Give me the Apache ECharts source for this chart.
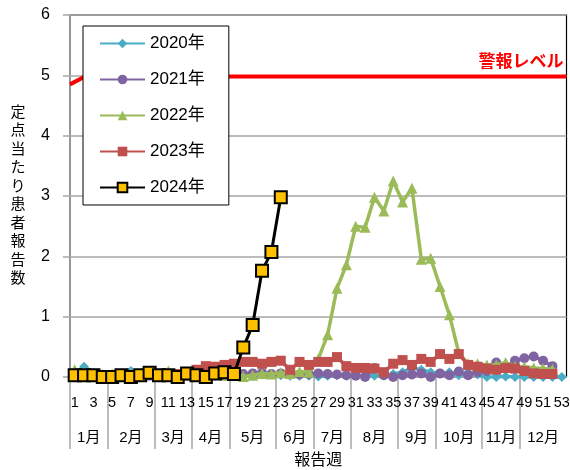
<!DOCTYPE html>
<html><head><meta charset="utf-8">
<script src="https://cdn.jsdelivr.net/npm/echarts@6/dist/echarts.min.js"></script>
<style>html,body{margin:0;padding:0;background:#fff}#c{width:570px;height:470px}</style>
</head><body><div id="c"></div>
<script>
const weeks = ['1','2','3','4','5','6','7','8','9','10','11','12','13','14','15','16','17','18','19','20','21','22','23','24','25','26','27','28','29','30','31','32','33','34','35','36','37','38','39','40','41','42','43','44','45','46','47','48','49','50','51','52','53'];
const monthNames = ['1月','2月','3月','4月','5月','6月','7月','8月','9月','10月','11月','12月'];
const monthBounds = [0,4,9,13,17,22,26,30,35,39,44,48,53];
const yTicks = [0,1,2,3,4,5,6];

const d2020 = [0.05,0.17,0.07,0.03,0.03,0.05,0.1,0.05,0.04,0.03,0.05,0.03,0.02,0.05,0.03,0.02,0.02,0.01,0.01,0.02,0.04,0.05,0.03,0.02,0.02,0.02,0.01,0.02,0.03,0.02,0.02,0.03,0.02,0.03,0.05,0.08,0.15,0.12,0.08,0.06,0.08,0.03,0.08,0.04,0.0,0.0,0.01,0.0,0.0,0.0,0.0,0.0,0.0];
const d2021 = [0.02,0.02,0.02,0.02,0.02,0.02,0.02,0.03,0.02,0.02,0.02,0.03,0.02,0.02,0.02,0.03,0.03,0.03,0.05,0.06,0.07,0.05,0.06,0.05,0.04,0.05,0.06,0.05,0.04,0.03,0.02,0.0,0.15,0.03,0.0,0.03,0.04,0.06,0.0,0.06,0.03,0.09,0.03,0.08,0.1,0.24,0.15,0.27,0.31,0.34,0.27,0.18,null];
const d2022 = [0.12,0.08,0.05,0.04,0.05,0.06,0.05,0.06,0.04,0.06,0.1,0.05,0.04,0.03,0.03,0.04,0.03,0.05,0.01,0.03,0.06,0.05,0.07,0.06,0.09,0.08,0.3,0.7,1.47,1.86,2.5,2.48,2.98,2.75,3.25,2.9,3.13,1.95,1.97,1.5,1.03,0.4,0.22,0.22,0.2,0.2,0.24,0.18,0.17,0.15,0.14,0.13,null];
const d2023 = [0.02,0.02,0.03,0.03,0.02,0.03,0.03,0.04,0.04,0.05,0.04,0.05,0.06,0.12,0.18,0.17,0.2,0.22,0.25,0.25,0.22,0.25,0.27,0.12,0.25,0.2,0.25,0.25,0.33,0.18,0.15,0.15,0.14,0.08,0.22,0.28,0.2,0.3,0.25,0.38,0.3,0.38,0.2,0.17,0.14,0.12,0.15,0.14,0.1,0.06,0.05,0.05,null];
const d2024 = [0.03,0.03,0.03,0.0,0.0,0.03,0.0,0.03,0.07,0.03,0.03,0.0,0.06,0.03,0.0,0.06,0.08,0.05,0.49,0.86,1.76,2.07,2.98];
const alarmLevel = [[0,4.85],[1.6,4.98],[53,4.98]];
const alarmLabel = '警報レベル';

const FONT = '"Liberation Sans", "Noto Sans CJK JP", sans-serif';
const GRAY = '#a6a6a6';
const monthCenters = monthNames.map((m,i)=> (monthBounds[i]+monthBounds[i+1])/2);

const chart = echarts.init(document.getElementById('c'));
const mk = (name, data, color, symbol, size, z) => ({
  name, type:'line', data, xAxisIndex:0, yAxisIndex:0,
  symbol, symbolSize:size, showAllSymbol:true, z,
  lineStyle:{color, width:3.5}, itemStyle:{color}
});
chart.setOption({
  animation:false,
  textStyle:{fontFamily:FONT},
  grid:{left:70, right:3.5, top:15, bottom:93, show:true, borderColor:'#000', borderWidth:1.2, outerBoundsMode:'none', containLabel:false},
  legend:{
    left:83, top:26, orient:'vertical', itemWidth:45, itemHeight:12, itemGap:19,
    padding:[9,24,9,16], backgroundColor:'#fff', borderColor:'#000', borderWidth:1,
    textStyle:{fontSize:17, color:'#000', fontFamily:FONT},
    data:['2020年','2021年','2022年','2023年','2024年']
  },
  xAxis:[{
    type:'category', data:weeks, boundaryGap:true,
    axisLine:{show:true, lineStyle:{color:GRAY, width:1.5}},
    axisTick:{show:false},
    axisLabel:{interval:1, fontSize:14.5, color:'#000', margin:19, fontFamily:FONT}
  },{
    type:'value', min:0, max:53, position:'bottom',
    axisLine:{show:false}, splitLine:{show:false},
    axisTick:{show:true, customValues:monthBounds.slice(0,12), length:72, lineStyle:{color:GRAY, width:1.5}},
    axisLabel:{customValues:monthCenters, margin:53, fontSize:15, color:'#000', fontFamily:FONT,
      formatter:(v)=>{const i=monthCenters.indexOf(v); return i>=0?monthNames[i]:'';}},
    name:'報告週', nameLocation:'middle', nameGap:76,
    nameTextStyle:{fontSize:16, color:'#000', fontFamily:FONT}
  }],
  yAxis:{
    type:'value', min:yTicks[0], max:yTicks[yTicks.length-1], interval:1,
    axisLine:{show:true, lineStyle:{color:GRAY, width:1.5}},
    axisTick:{show:true, length:7, lineStyle:{color:GRAY, width:1.5}},
    splitLine:{lineStyle:{color:GRAY, width:1.5}},
    axisLabel:{fontSize:16, color:'#000', margin:20, fontFamily:FONT},
    name:'定点当たり患者報告数'.split('').join('\n'), nameLocation:'middle', nameRotate:0, nameGap:52,
    nameTextStyle:{fontSize:15, lineHeight:18.5, color:'#000', align:'center', verticalAlign:'middle', fontFamily:FONT}
  },
  series:[
    mk('2020年', d2020, '#4BACC6', 'diamond', 10, 2),
    mk('2021年', d2021, '#8064A2', 'circle', 10, 3),
    mk('2022年', d2022, '#9BBB59', 'triangle', 11, 4),
    mk('2023年', d2023, '#C0504D', 'rect', 10, 5),
    {name:'2024年', type:'line', data:d2024, symbol:'rect', symbolSize:12, showAllSymbol:true, z:6,
      lineStyle:{color:'#000', width:3}, itemStyle:{color:'#FFC000', borderColor:'#000', borderWidth:2}},
    {name:'警報レベル', type:'line', xAxisIndex:1, yAxisIndex:0, symbol:'circle', symbolSize:0.1, showSymbol:true, z:1,
      lineStyle:{color:'#FF0000', width:4}, itemStyle:{color:'#FF0000'},
      data: alarmLevel.map((p,i)=> i===alarmLevel.length-1 ? {value:p, label:{show:true, formatter:alarmLabel, position:'top', align:'right', distance:6, offset:[-3,0], color:'#FF0000', fontSize:17, fontWeight:'bold', fontFamily:FONT}} : p)
    }
  ]
});
</script></body></html>
